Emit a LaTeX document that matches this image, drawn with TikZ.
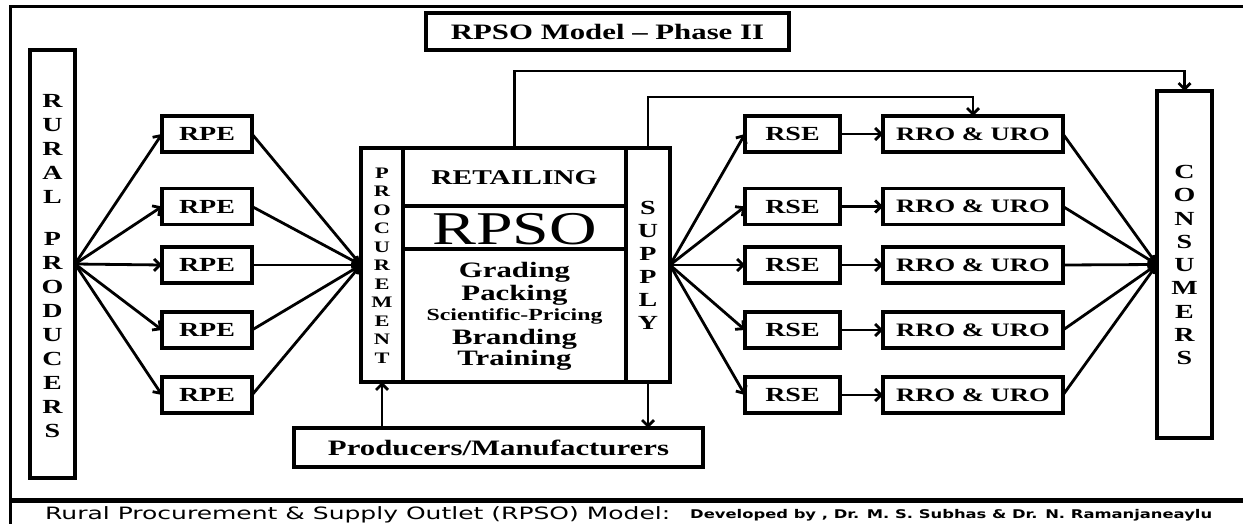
\documentclass[tikz,border=0pt]{standalone}
\usepackage{fontspec}
\usepackage{graphicx}
\setmainfont{Liberation Serif}[FakeStretch=1.4]
\newfontfamily\capfont{DejaVu Sans}
\usetikzlibrary{arrows.meta}
\tikzset{
  bx/.style={draw, line width=3.2pt, inner sep=0pt, outer sep=0pt},
  boxtxt/.style={font=\fontsize{20}{24}\selectfont\bfseries},
  rrotxt/.style={font=\fontsize{19}{24}\selectfont\bfseries},
  conn/.style={line width=2.8pt, -{Straight Barb[length=6pt,width=12pt]}},
  plainline/.style={line width=3.2pt},
  stack/.style={align=center, inner sep=0pt},
}
\begin{document}
\begin{tikzpicture}[x=1pt,y=-1pt]
\useasboundingbox (0,0) rectangle (1243,524);
\fill[white] (0,0) rectangle (1243,524);
% frame
\draw[line width=3pt] (1243,7) -- (10,7) -- (10,524);
\draw[line width=5pt] (10,500) -- (1243,500);
% title
\node[bx, minimum width=363pt, minimum height=37pt, font=\fontsize{22}{24}\selectfont\bfseries] (title) at (607.5,31.5) {RPSO Model -- Phase II};
% rural producers
\node[bx, minimum width=45pt, minimum height=428pt] (rp) at (52.5,264) {};
\node[stack, boxtxt] (rptxt) at (52.5,266) {R\\U\\R\\A\\L\\[18pt]P\\R\\O\\D\\U\\C\\E\\R\\S};
% RPE / RSE / RRO boxes
\foreach \i/\y in {1/134,2/206.5,3/265,4/330,5/395}{
  \node[bx, minimum width=90pt, minimum height=36pt, boxtxt] (rpe\i) at (207,\y) {RPE};
  \node[bx, minimum width=95pt, minimum height=36pt, boxtxt] (rse\i) at (792.5,\y) {RSE};
  \node[bx, minimum width=180pt, minimum height=36pt, rrotxt] (rro\i) at (973,\y) {RRO \& URO};
}
% central block
\node[bx, minimum width=42pt, minimum height=234pt] (proc) at (382,265) {};
\node[bx, minimum width=223pt, minimum height=234pt] (mid) at (514.5,265) {};
\node[bx, minimum width=44pt, minimum height=234pt] (sup) at (648,265) {};
\draw[plainline] (mid.west |- 0,206) -- (mid.east |- 0,206);
\draw[plainline] (mid.west |- 0,249) -- (mid.east |- 0,249);
\node[stack, font=\fontsize{16}{18.5}\selectfont\bfseries] (proctxt) at (382,265.5) {P\\R\\O\\C\\U\\R\\E\\M\\E\\N\\T};
\node[stack, font=\fontsize{20}{23}\selectfont\bfseries] (suptxt) at (648,265.5) {S\\U\\P\\P\\L\\Y};
\node[font=\fontsize{21}{24}\selectfont\bfseries, inner sep=0pt] (retail) at (514.5,178) {RETAILING};
\node[font=\fontsize{47}{50}\selectfont, inner sep=0pt, anchor=base] (rpso) at (514.5,244) {RPSO};
\node[font=\fontsize{22}{24}\selectfont\bfseries, inner sep=0pt, anchor=base] (grading) at (514.5,277) {Grading};
\node[font=\fontsize{22}{24}\selectfont\bfseries, inner sep=0pt, anchor=base] (packing) at (514.5,300) {Packing};
\node[font=\fontsize{17}{20}\selectfont\bfseries, inner sep=0pt, anchor=base] (pricing) at (514.5,320) {Scientific-Pricing};
\node[font=\fontsize{22}{24}\selectfont\bfseries, inner sep=0pt, anchor=base] (branding) at (514.5,344) {Branding};
\node[font=\fontsize{22}{24}\selectfont\bfseries, inner sep=0pt, anchor=base] (training) at (514.5,365) {Training};
% producers / manufacturers
\node[bx, minimum width=409pt, minimum height=39pt, font=\fontsize{22}{24}\selectfont\bfseries] (pm) at (498.5,447.5) {Producers/Manufacturers};
% consumers
\node[bx, minimum width=55pt, minimum height=347pt] (cons) at (1184.5,264.5) {};
\node[stack, font=\fontsize{20}{23.25}\selectfont\bfseries] (constxt) at (1184.5,265) {C\\O\\N\\S\\U\\M\\E\\R\\S};
% connectors
\foreach \i in {1,...,5}{
  \draw[conn] (rp.east) -- (rpe\i.west);
  \draw[conn] (rpe\i.east) -- (proc.west);
  \draw[conn] (sup.east) -- (rse\i.west);
  \draw[conn] (rse\i.east) -- (rro\i.west);
  \draw[conn] (rro\i.east) -- (cons.west);
}
\draw[conn] (pm.north -| proc) -- (proc.south);
\draw[conn] (sup.south) -- (sup.south |- pm.north);
\coordinate (top1) at (0,71);
\coordinate (top2) at (0,97);
\draw[conn] (mid.north) -- (mid.north |- top1) -- (cons.north |- top1) -- (cons.north);
\draw[conn] (sup.north) -- (sup.north |- top2) -- (rro1.north |- top2) -- (rro1.north);
% caption
\node[anchor=base west, inner sep=0pt, font=\capfont\fontsize{17}{18}\selectfont] (cap1) at (45,519) {\resizebox{625pt}{\height}{Rural Procurement \& Supply Outlet (RPSO) Model:}};
\node[anchor=base west, inner sep=0pt, font=\capfont\bfseries\fontsize{12}{14}\selectfont] (cap2) at (690,518) {\resizebox{522pt}{\height}{Developed by , Dr. M. S. Subhas \& Dr. N. Ramanjaneaylu}};
\end{tikzpicture}
\end{document}
